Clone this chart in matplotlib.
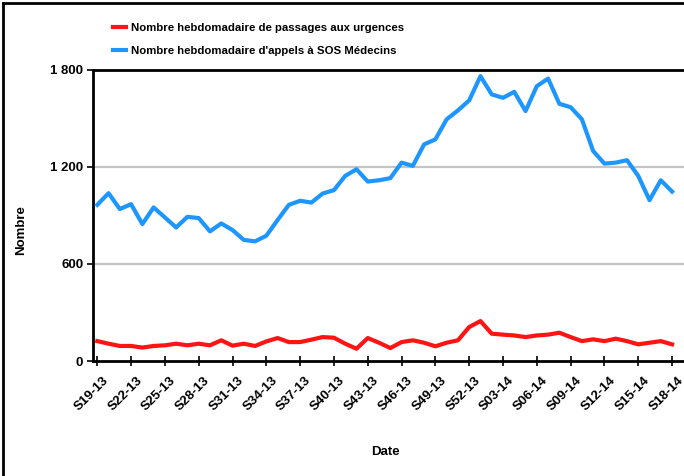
import matplotlib
matplotlib.use("Agg")
import matplotlib.pyplot as plt
from matplotlib.lines import Line2D
from matplotlib.transforms import ScaledTranslation

plt.rcParams['font.family'] = ['Liberation Sans', 'DejaVu Sans']

weeks = [f"S{w:02d}-13" for w in range(19, 53)] + [f"S{w:02d}-14" for w in range(1, 19)]

urgences = [123, 107, 93, 93, 83, 93, 97, 107, 97, 107, 97, 128, 95, 107, 93, 121,
            142, 117, 117, 132, 148, 144, 107, 76, 142, 113, 80, 117, 128, 113, 91, 113,
            128, 210, 247, 169, 163, 158, 148, 158, 163, 175, 148, 123, 134, 123, 138, 123,
            103, 113, 123, 103]

sos = [966, 1038, 940, 970, 847, 950, 888, 826, 892, 884, 802, 851, 810, 749, 740, 775,
       872, 966, 991, 980, 1036, 1057, 1145, 1186, 1110, 1118, 1131, 1227, 1207, 1340, 1371, 1495,
       1550, 1612, 1762, 1649, 1628, 1665, 1546, 1700, 1747, 1591, 1570, 1495, 1299, 1221, 1227, 1242,
       1145, 995, 1118, 1048]

yticks = [0, 600, 1200, 1800]
ytick_labels = ["0", "600", "1 200", "1 800"]

label_urg = "Nombre hebdomadaire de passages aux urgences"
label_sos = "Nombre hebdomadaire d'appels à SOS Médecins"

W, H = 684, 476
fig = plt.figure(figsize=(W / 100, H / 100), dpi=100)
ax = fig.add_axes([93 / W, 1 - 361 / H, (684 - 93) / W, (361 - 70) / H])

x = list(range(len(weeks)))
red = '#ff1414'
blue = '#1e96ff'
ax.plot(x, urgences, color=red, lw=3.0, solid_joinstyle='round', zorder=3)
ax.plot(x, sos, color=blue, lw=3.0, solid_joinstyle='round', zorder=3)

ax.set_xlim(-0.38, 52.06)
ax.set_ylim(0, 1800)
ax.set_yticks(yticks)
ax.set_yticklabels(ytick_labels, fontsize=9.5, fontweight='bold')
for v in yticks[1:3]:
    ax.axhline(v, color='#c4c4c4', lw=1.6, zorder=1)

ax.set_xticks(x[::3])
ax.set_xticklabels(weeks[::3], rotation=45, ha='right', va='top', fontsize=9.5,
                   fontweight='bold', rotation_mode='anchor')
ax.tick_params(axis='x', direction='inout', length=7, width=1.2, pad=6)
ax.tick_params(axis='y', direction='out', length=4, width=1.2, pad=3)
offset = ScaledTranslation(5 / 100, 0, fig.dpi_scale_trans)
for lab in ax.get_xticklabels():
    lab.set_transform(lab.get_transform() + offset)

for s in ['left', 'bottom', 'top']:
    ax.spines[s].set_linewidth(2)
    ax.spines[s].set_color('black')
ax.spines['right'].set_visible(False)

ax.set_ylabel("Nombre", fontsize=9.5, fontweight='bold', labelpad=0)
ax.yaxis.set_label_coords(-66 / (684 - 93), 0.45)
ax.set_xlabel("Date", fontsize=9.5, fontweight='bold')
ax.xaxis.set_label_coords((385 - 93) / (684 - 93), -(446 - 361) / (361 - 70))

handles = [Line2D([0], [0], color=red, lw=3), Line2D([0], [0], color=blue, lw=3)]
fig.legend(handles, [label_urg, label_sos], loc='upper left',
           bbox_to_anchor=(108 / W, 1 - 18 / H), frameon=False,
           prop={'size': 8.2, 'weight': 'bold'}, handlelength=1.2,
           handletextpad=0.45, labelspacing=1.15, borderaxespad=0)

# figure border (left and top visible)
fig.add_artist(Line2D([2.5 / W, 2.5 / W], [0, 1 - 2.5 / H], color='black', lw=2,
                      transform=fig.transFigure))
fig.add_artist(Line2D([2.5 / W, 1], [1 - 2.5 / H, 1 - 2.5 / H], color='black', lw=2,
                      transform=fig.transFigure))

fig.savefig("out.png", dpi=100)
